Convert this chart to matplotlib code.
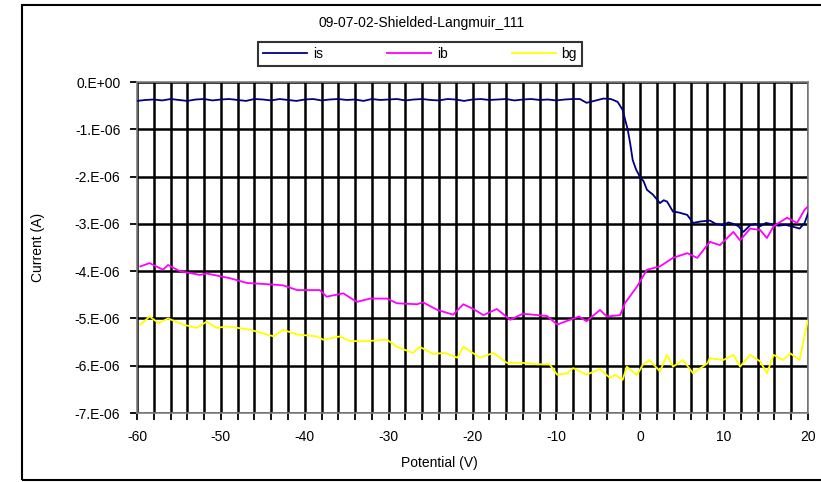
import matplotlib
matplotlib.use("Agg")
import matplotlib.pyplot as plt
from matplotlib.ticker import MultipleLocator, FuncFormatter
from matplotlib.patches import Rectangle

plt.rcParams['font.family'] = ['Liberation Sans', 'DejaVu Sans']
plt.rcParams['axes.unicode_minus'] = False

title = "09-07-02-Shielded-Langmuir_111"
series_names = ["is", "ib", "bg"]

# currents read in units of 1e-6 A
v_is = [-60, -59, -58, -57, -56, -55, -54, -53, -52, -51, -50, -49, -48, -47, -46,
        -45, -44, -43, -42, -41, -40, -39, -38, -37, -36, -35, -34, -33, -32, -31,
        -30, -29, -28, -27, -26, -25, -24, -23, -22, -21, -20, -19, -18, -17, -16,
        -15, -14, -13, -12, -11, -10, -9, -8, -7.2, -6.4, -5.5, -4.4, -3.5, -2.7,
        -2.1, -1.8, -1.5, -1.2, -0.9, -0.5, -0.05, 0.4, 0.8, 1.5, 2.35, 2.8, 3.2,
        3.9, 4.6, 5.6, 6.3, 7.2, 8.3, 9.0, 9.9, 10.5, 11.1, 11.7, 12.3, 13.1, 13.7,
        14.3, 15.0, 15.5, 16.5, 17.3, 18.2, 19.0, 19.6, 20]
i_is = [-0.40, -0.38, -0.37, -0.39, -0.36, -0.38, -0.40, -0.37, -0.36, -0.39, -0.37,
        -0.36, -0.38, -0.40, -0.36, -0.37, -0.39, -0.36, -0.38, -0.40, -0.37, -0.36,
        -0.39, -0.37, -0.36, -0.38, -0.37, -0.40, -0.36, -0.38, -0.37, -0.36, -0.39,
        -0.37, -0.36, -0.38, -0.39, -0.36, -0.37, -0.40, -0.37, -0.36, -0.38, -0.37,
        -0.36, -0.39, -0.37, -0.36, -0.38, -0.37, -0.39, -0.37, -0.36, -0.36, -0.44,
        -0.40, -0.35, -0.36, -0.42, -0.59, -0.80, -1.00, -1.30, -1.65, -1.85, -2.00,
        -2.10, -2.28, -2.38, -2.56, -2.50, -2.53, -2.74, -2.76, -2.81, -2.98, -2.95,
        -2.93, -3.00, -3.03, -2.97, -3.00, -3.05, -3.17, -3.03, -3.00, -3.05, -2.98,
        -3.00, -3.04, -3.02, -3.06, -3.10, -2.98, -2.78]

v_ib = [-59.6, -58.5, -56.9, -56.3, -54.9, -52.5, -51.7, -48.9, -46.9, -44.1, -42.6,
        -40.9, -38.2, -37.4, -35.4, -33.8, -32.2, -30.2, -29.0, -26.6, -25.9, -24.2,
        -22.3, -21.1, -19.9, -18.7, -17.1, -15.5, -14.0, -11.1, -9.9, -8.7, -7.3,
        -6.4, -4.8, -4.0, -2.4, -1.8, -0.4, 0.8, 2.35, 3.9, 5.6, 6.8, 8.3, 9.5, 11.1,
        11.9, 13.1, 14.3, 15.1, 15.9, 17.5, 18.7, 19.6, 20]
i_ib = [-3.90, -3.83, -3.97, -3.87, -4.00, -4.08, -4.05, -4.15, -4.25, -4.28, -4.30,
        -4.40, -4.40, -4.54, -4.47, -4.65, -4.58, -4.58, -4.68, -4.70, -4.66, -4.82,
        -4.92, -4.70, -4.80, -4.93, -4.80, -5.03, -4.90, -4.95, -5.13, -5.05, -4.96,
        -5.06, -4.82, -4.96, -4.93, -4.67, -4.33, -3.97, -3.90, -3.72, -3.62, -3.72,
        -3.38, -3.45, -3.17, -3.35, -3.10, -3.13, -3.30, -3.05, -2.87, -2.98, -2.70,
        -2.63]

v_bg = [-59.6, -58.5, -57.4, -56.3, -54.5, -52.9, -51.7, -50.5, -49.3, -48.0, -46.5,
        -45.3, -43.7, -42.6, -40.9, -38.5, -37.8, -35.8, -34.6, -32.6, -30.2, -29.0,
        -27.1, -26.3, -24.7, -23.3, -21.8, -21.1, -19.1, -17.5, -15.9, -14.0, -12.3,
        -10.8, -9.9, -8.7, -8.0, -6.4, -4.8, -3.6, -3.0, -2.1, -1.6, -0.4, 0.3, 1.1,
        2.35, 3.2, 3.9, 5.1, 6.3, 8.0, 8.3, 9.9, 11.1, 11.9, 13.1, 14.3, 15.1, 15.9,
        17.0, 17.9, 19.0, 19.9, 20]
i_bg = [-5.13, -4.96, -5.10, -5.00, -5.13, -5.20, -5.07, -5.20, -5.17, -5.20, -5.24,
        -5.30, -5.38, -5.24, -5.34, -5.38, -5.45, -5.38, -5.48, -5.48, -5.45, -5.60,
        -5.73, -5.60, -5.75, -5.73, -5.83, -5.60, -5.83, -5.73, -5.94, -5.94, -5.97,
        -5.97, -6.19, -6.16, -6.05, -6.19, -6.07, -6.26, -6.19, -6.30, -6.02, -6.20,
        -5.98, -5.88, -6.12, -5.77, -6.02, -5.88, -6.16, -5.95, -5.84, -5.88, -5.77,
        -6.02, -5.77, -5.91, -6.16, -5.77, -5.88, -5.74, -5.88, -5.10, -5.05]

colors = ["#000080", "#FF00FF", "#FFFF00"]

fig = plt.figure(figsize=(8.21, 4.82), dpi=100)
ax = fig.add_axes([137 / 821, 1 - 413 / 482, 671 / 821, 331 / 482])

lines = []
for v, i, c, name in zip([v_is, v_ib, v_bg], [i_is, i_ib, i_bg], colors, series_names):
    ln, = ax.plot(v, [x * 1e-6 for x in i], color=c, lw=1.3, label=name, zorder=3)
    lines.append(ln)

ax.set_xlim(-60, 20)
ax.set_ylim(-7e-6, 0)
ax.xaxis.set_major_locator(MultipleLocator(10))
ax.xaxis.set_minor_locator(MultipleLocator(2))
ax.yaxis.set_major_locator(MultipleLocator(1e-6))
ax.yaxis.set_major_formatter(FuncFormatter(
    lambda y, p: "0.E+00" if abs(y) < 1e-9 else "%d.E-06" % round(y * 1e6)))
ax.grid(True, which="both", axis="x", color="black", lw=1.8, zorder=1)
ax.grid(True, which="major", axis="y", color="black", lw=1.8, zorder=1)
ax.tick_params(which="major", direction="out", length=5, width=1.3, labelsize=10, pad=7)
ax.tick_params(which="minor", direction="out", length=5, width=1.3)
ax.tick_params(axis="y", which="minor", length=0)
for s in ax.spines.values():
    s.set_color("#808080")
    s.set_linewidth(1.2)

fig.text(38 / 821, 1 - 247 / 482, "Current (A)", rotation=90, ha="center", va="center",
         fontsize=10)
fig.text(439 / 821, 1 - 463 / 482, "Potential (V)", ha="center", va="center", fontsize=10)
fig.text(422 / 821, 1 - 23 / 482, title, ha="center", va="center", fontsize=10)

leg = fig.legend(handles=lines, loc="center", ncol=3, frameon=True, fancybox=False,
                 bbox_to_anchor=(420 / 821, 1 - 54 / 482), fontsize=10,
                 handlelength=3.2, columnspacing=4.6, borderpad=0.35, handletextpad=0.4,
                 borderaxespad=0, edgecolor="black")
leg.get_frame().set_linewidth(1.5)

# outer chart border
fig.patches.append(Rectangle((22 / 821, 2 / 482), 1.2, 1 - 7 / 482,
                             transform=fig.transFigure, fill=False,
                             edgecolor="black", lw=1.5))

fig.savefig("out.png", dpi=100)
